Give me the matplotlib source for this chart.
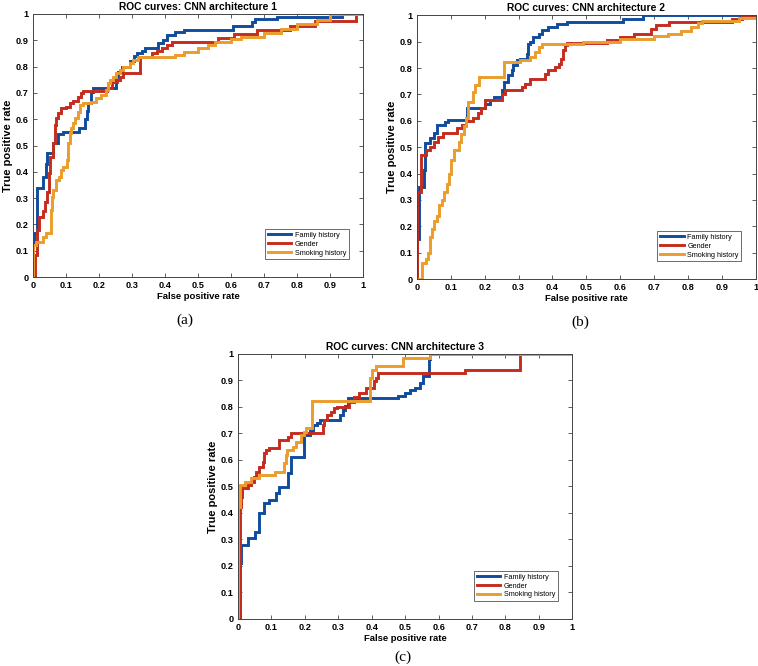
import matplotlib
matplotlib.use('Agg')
import matplotlib.pyplot as plt

plt.rcParams['font.family'] = ['Liberation Sans', 'DejaVu Sans']

# ---- data (fpr, tpr corner points) ----
labels = ['Family history', 'Gender', 'Smoking history']
colors = ['#0f4c9e', '#c42d1e', '#eb9c2a']
titles = ['ROC curves: CNN architecture 1',
          'ROC curves: CNN architecture 2',
          'ROC curves: CNN architecture 3']
panel_tags = ['(a)', '(b)', '(c)']
ticks = [0, 0.1, 0.2, 0.3, 0.4, 0.5, 0.6, 0.7, 0.8, 0.9, 1]
tick_labels = ['0', '0.1', '0.2', '0.3', '0.4', '0.5', '0.6', '0.7', '0.8', '0.9', '1']

# architecture 1
fam1_fpr = [0, 0, 0.004, 0.011, 0.029, 0.039, 0.042, 0.06, 0.077, 0.092, 0.14, 0.157, 0.163, 0.168,
            0.175, 0.183, 0.25, 0.259, 0.27, 0.295, 0.305, 0.315, 0.33, 0.34, 0.38, 0.395, 0.405,
            0.43, 0.456, 0.607, 0.663, 0.673, 0.738, 0.935, 1.0]
fam1_tpr = [0, 0.13, 0.166, 0.34, 0.38, 0.43, 0.47, 0.51, 0.545, 0.553, 0.565, 0.6, 0.63, 0.66,
            0.705, 0.717, 0.76, 0.78, 0.80, 0.82, 0.84, 0.85, 0.86, 0.87, 0.89, 0.90, 0.92,
            0.93, 0.94, 0.955, 0.97, 0.98, 0.99, 1.0, 1.0]
gen1_fpr = [0, 0.005, 0.013, 0.019, 0.029, 0.036, 0.042, 0.049, 0.053, 0.06, 0.066, 0.07, 0.076,
            0.086, 0.1, 0.112, 0.122, 0.137, 0.146, 0.152, 0.223, 0.24, 0.255, 0.265, 0.272, 0.324,
            0.36, 0.375, 0.39, 0.405, 0.42, 0.56, 0.61, 0.678, 0.779, 0.855, 0.98, 1.0]
gen1_tpr = [0, 0.084, 0.18, 0.23, 0.25, 0.285, 0.325, 0.395, 0.457, 0.508, 0.578, 0.603, 0.622,
            0.641, 0.648, 0.66, 0.67, 0.683, 0.698, 0.708, 0.72, 0.74, 0.75, 0.76, 0.775, 0.835,
            0.85, 0.86, 0.87, 0.882, 0.895, 0.907, 0.924, 0.939, 0.955, 0.975, 1.0, 1.0]
smk1_fpr = [0, 0, 0.008, 0.03, 0.04, 0.054, 0.057, 0.06, 0.07, 0.08, 0.086, 0.092, 0.103, 0.106,
            0.112, 0.116, 0.122, 0.126, 0.137, 0.142, 0.152, 0.177, 0.192, 0.207, 0.222, 0.227,
            0.232, 0.242, 0.253, 0.263, 0.273, 0.294, 0.303, 0.318, 0.43, 0.456, 0.5, 0.53, 0.55,
            0.6, 0.63, 0.7, 0.75, 0.8, 0.86, 0.9, 1.0]
smk1_tpr = [0, 0.12, 0.135, 0.153, 0.166, 0.255, 0.305, 0.33, 0.37, 0.38, 0.407, 0.42, 0.445, 0.508,
            0.546, 0.565, 0.584, 0.603, 0.628, 0.654, 0.66, 0.667, 0.68, 0.692, 0.711, 0.736,
            0.749, 0.762, 0.775, 0.787, 0.8, 0.812, 0.825, 0.838, 0.845, 0.857, 0.87, 0.882, 0.895,
            0.905, 0.914, 0.927, 0.942, 0.962, 0.977, 1.0, 1.0]

# architecture 2
fam2_fpr = [0, 0, 0.007, 0.02, 0.024, 0.025, 0.039, 0.049, 0.059, 0.084, 0.093, 0.147, 0.202, 0.215,
            0.227, 0.251, 0.256, 0.27, 0.28, 0.285, 0.295, 0.305, 0.324, 0.329, 0.334, 0.344,
            0.359, 0.369, 0.388, 0.413, 0.442, 0.609, 0.668, 1.0]
fam2_tpr = [0, 0.15, 0.35, 0.413, 0.444, 0.514, 0.533, 0.552, 0.583, 0.596, 0.602, 0.647, 0.665, 0.68,
            0.69, 0.716, 0.747, 0.773, 0.792, 0.81, 0.83, 0.836, 0.855, 0.893, 0.9, 0.918,
            0.93, 0.943, 0.956, 0.966, 0.975, 0.987, 1.0, 1.0]
gen2_fpr = [0, 0, 0.013, 0.028, 0.038, 0.049, 0.063, 0.078, 0.118, 0.133, 0.145, 0.165, 0.18, 0.19,
            0.2, 0.251, 0.261, 0.31, 0.319, 0.334, 0.379, 0.388, 0.408, 0.418, 0.425, 0.432, 0.438,
            0.444, 0.56, 0.6, 0.64, 0.69, 0.705, 0.745, 0.93, 0.96, 1.0]
gen2_tpr = [0, 0.33, 0.47, 0.489, 0.501, 0.52, 0.539, 0.552, 0.571, 0.583, 0.6, 0.61, 0.63, 0.65,
            0.678, 0.703, 0.716, 0.728, 0.741, 0.76, 0.779, 0.792, 0.804, 0.817, 0.836, 0.87, 0.886,
            0.895, 0.905, 0.918, 0.93, 0.95, 0.962, 0.975, 0.985, 1.0, 1.0]
smk2_fpr = [0, 0.015, 0.028, 0.034, 0.038, 0.045, 0.05, 0.06, 0.065, 0.075, 0.08, 0.09, 0.095, 0.1,
            0.11, 0.125, 0.13, 0.14, 0.145, 0.152, 0.167, 0.172, 0.182, 0.256, 0.305, 0.335, 0.35,
            0.36, 0.37, 0.49, 0.6, 0.7, 0.74, 0.78, 0.81, 0.83, 0.84, 0.95, 1.0]
smk2_tpr = [0, 0.06, 0.075, 0.1, 0.16, 0.19, 0.22, 0.24, 0.28, 0.3, 0.33, 0.36, 0.4, 0.45,
            0.49, 0.52, 0.55, 0.58, 0.61, 0.672, 0.71, 0.735, 0.766, 0.823, 0.83, 0.842, 0.86,
            0.88, 0.893, 0.9, 0.912, 0.92, 0.93, 0.94, 0.955, 0.97, 0.98, 0.99, 0.99]

# architecture 3
fam3_fpr = [0, 0.006, 0.009, 0.03, 0.05, 0.063, 0.078, 0.093, 0.113, 0.123, 0.15, 0.158, 0.198,
            0.215, 0.225, 0.235, 0.245, 0.305, 0.315, 0.32, 0.33, 0.48, 0.5, 0.515, 0.53, 0.545,
            0.553, 0.57, 0.575, 1.0]
fam3_tpr = [0, 0.21, 0.28, 0.305, 0.33, 0.4, 0.437, 0.449, 0.474, 0.499, 0.55, 0.612, 0.694,
            0.71, 0.73, 0.74, 0.751, 0.77, 0.79, 0.805, 0.833, 0.842, 0.852, 0.862, 0.872, 0.889,
            0.915, 0.98, 1.0, 1.0]
gen3_fpr = [0, 0.005, 0.008, 0.013, 0.03, 0.04, 0.047, 0.054, 0.064, 0.074, 0.079, 0.084, 0.094,
            0.123, 0.15, 0.158, 0.253, 0.256, 0.266, 0.278, 0.287, 0.297, 0.332, 0.347, 0.362,
            0.382, 0.407, 0.412, 0.419, 0.68, 0.843, 1.0]
gen3_tpr = [0, 0.424, 0.46, 0.493, 0.506, 0.518, 0.537, 0.556, 0.575, 0.594, 0.625, 0.638, 0.644,
            0.675, 0.686, 0.703, 0.73, 0.75, 0.77, 0.782, 0.795, 0.801, 0.82, 0.839, 0.852,
            0.871, 0.896, 0.908, 0.928, 0.94, 1.0, 1.0]
smk3_fpr = [0, 0.0, 0.005, 0.02, 0.04, 0.062, 0.11, 0.138, 0.143, 0.148, 0.165, 0.172, 0.189,
            0.198, 0.203, 0.222, 0.395, 0.402, 0.412, 0.495, 0.575, 1.0]
smk3_tpr = [0, 0.424, 0.506, 0.515, 0.531, 0.543, 0.556, 0.588, 0.619, 0.638, 0.65, 0.669, 0.694,
            0.707, 0.72, 0.824, 0.91, 0.94, 0.955, 0.985, 1.0, 1.0]

panels = [
    [(fam1_fpr, fam1_tpr), (gen1_fpr, gen1_tpr), (smk1_fpr, smk1_tpr)],
    [(fam2_fpr, fam2_tpr), (gen2_fpr, gen2_tpr), (smk2_fpr, smk2_tpr)],
    [(fam3_fpr, fam3_tpr), (gen3_fpr, gen3_tpr), (smk3_fpr, smk3_tpr)],
]

# axes boxes in figure fraction [left, bottom, width, height]
boxes = [[0.0435, 0.584, 0.4355, 0.395],
         [0.550, 0.581, 0.447, 0.396],
         [0.314, 0.0706, 0.441, 0.398]]
# where the (a)/(b)/(c) tags sit (figure fraction)
tag_pos = [(0.244, 0.519), (0.765, 0.516), (0.532, 0.013)]

fig = plt.figure(figsize=(7.58, 6.66), dpi=100)

for i in range(3):
    ax = fig.add_axes(boxes[i])
    for (fpr, tpr), lab, col in zip(panels[i], labels, colors):
        ax.plot(fpr, tpr, drawstyle='steps-post', color=col, lw=2.1, label=lab,
                solid_joinstyle='miter')
    ax.set_xlim(0, 1)
    ax.set_ylim(0, 1)
    ax.set_xticks(ticks)
    ax.set_yticks(ticks)
    ax.set_xticklabels(tick_labels, fontweight='bold')
    ax.set_yticklabels(tick_labels, fontweight='bold')
    ax.tick_params(direction='in', length=3, width=0.6, labelsize=6.6, pad=3,
                   top=True, right=True, color='#444444')
    for sp in ax.spines.values():
        sp.set_color('#444444')
        sp.set_linewidth(0.7)
    ax.set_title(titles[i], fontsize=7.4, fontweight='bold', pad=3)
    ax.set_xlabel('False positive rate', fontsize=6.8, fontweight='bold', labelpad=1)
    ax.set_ylabel('True positive rate', fontsize=8, fontweight='bold', labelpad=2)
    leg = ax.legend(loc='lower right', bbox_to_anchor=(0.957, 0.068), fontsize=5.2,
                    labelspacing=0.25, handlelength=3.3, handletextpad=0.5, borderpad=0.35,
                    borderaxespad=0, fancybox=False, framealpha=1)
    leg.get_frame().set_edgecolor('#555555')
    leg.get_frame().set_linewidth(0.6)
    fig.text(tag_pos[i][0], tag_pos[i][1], panel_tags[i], ha='center', va='center',
             fontsize=11, family='Liberation Serif')

fig.savefig('out.png', dpi=100)
